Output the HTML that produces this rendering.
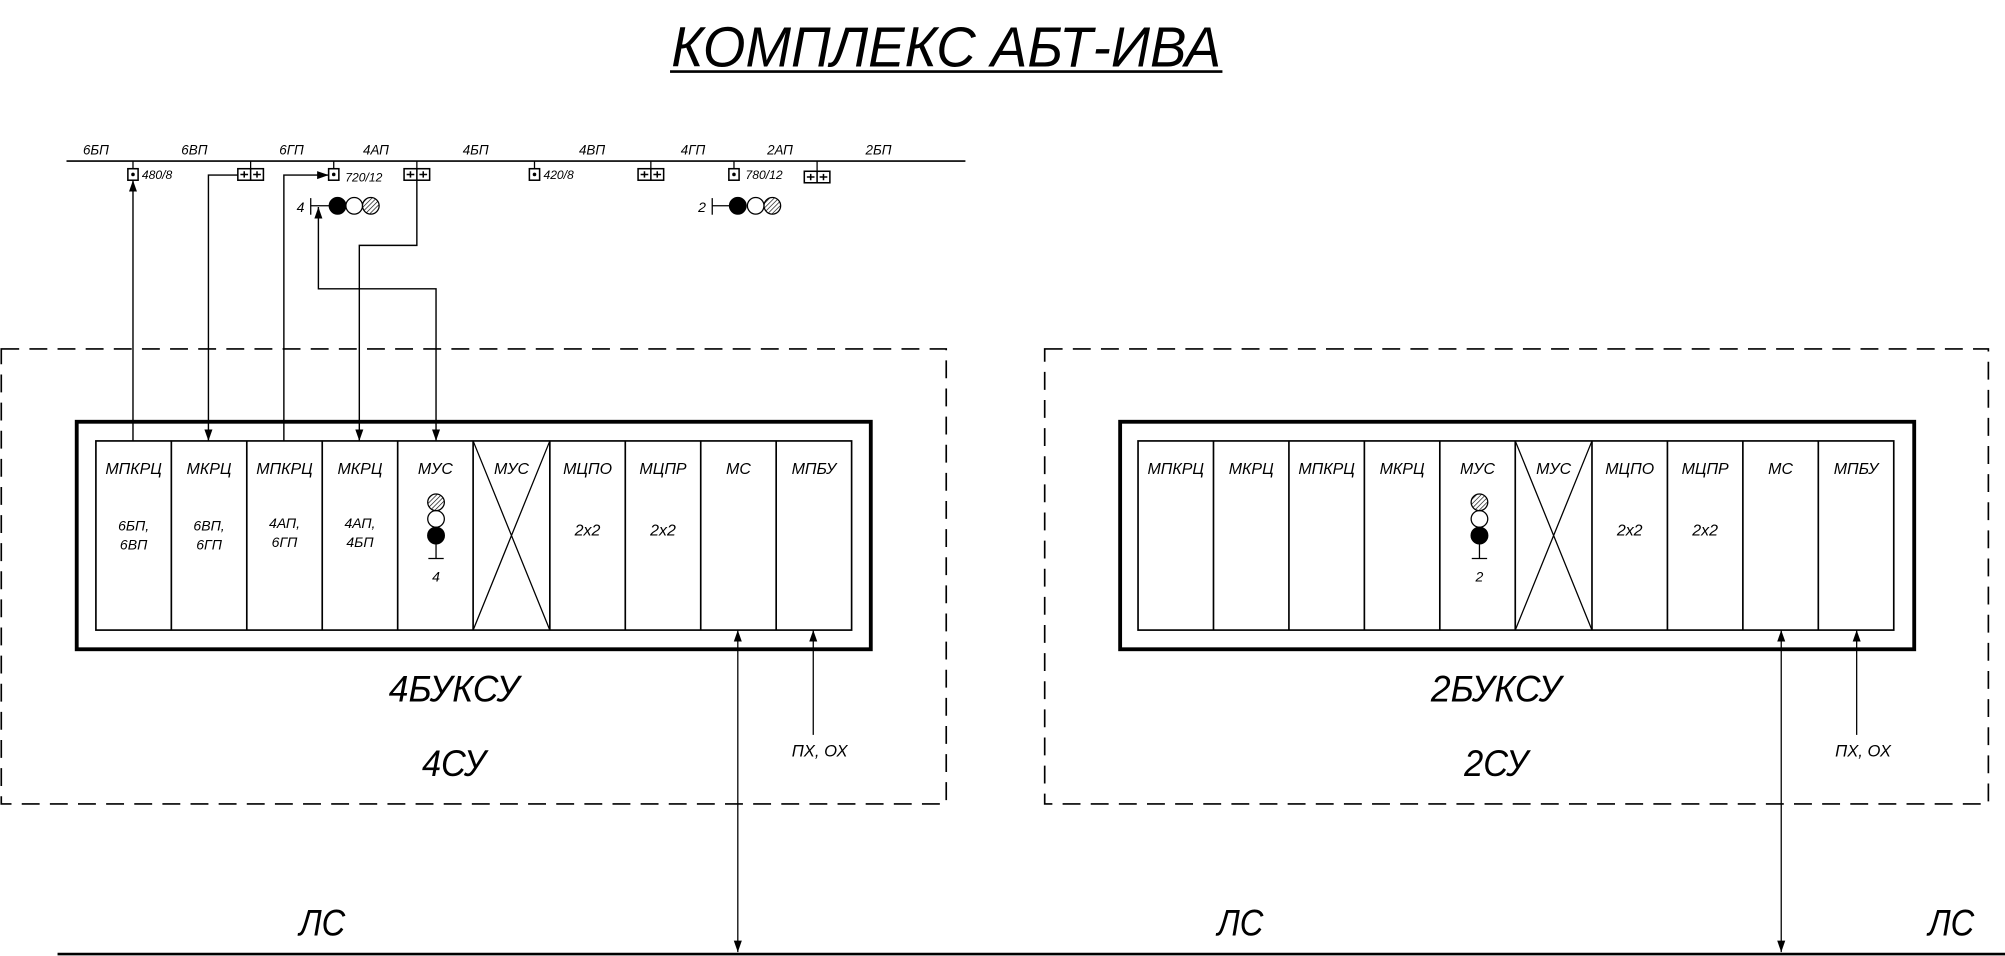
<!DOCTYPE html>
<html><head><meta charset="utf-8"><style>html,body{margin:0;padding:0;background:#fff}svg{display:block}</style></head><body>
<svg width="2005" height="956" viewBox="0 0 1568 748" preserveAspectRatio="none" xmlns="http://www.w3.org/2000/svg" font-family="'Liberation Sans', 'DejaVu Sans', sans-serif" font-style="italic" fill="#000">
<defs>
<marker id="a" viewBox="0 0 10 10" refX="10" refY="5" markerWidth="9" markerHeight="9" markerUnits="userSpaceOnUse" orient="auto-start-reverse"><path d="M0,1.5 L10,5 L0,8.5 z" fill="#000"/></marker>
<pattern id="h" width="2.5" height="2.5" patternUnits="userSpaceOnUse" patternTransform="rotate(45)"><rect width="2.5" height="2.5" fill="#fff"/><line x1="0" y1="0" x2="0" y2="2.5" stroke="#000" stroke-width="1"/></pattern>
</defs>
<g stroke="#000" fill="none">
<line x1="524" y1="56" x2="956" y2="56" stroke-width="2"/>
<line x1="52" y1="126" x2="755" y2="126" stroke-width="1.3"/>
<line x1="104" y1="126" x2="104" y2="132"/><line x1="196" y1="126" x2="196" y2="132"/><line x1="261" y1="126" x2="261" y2="132"/><line x1="326" y1="126" x2="326" y2="132"/><line x1="418" y1="126" x2="418" y2="132"/><line x1="509" y1="126" x2="509" y2="132"/><line x1="574" y1="126" x2="574" y2="132"/><line x1="639" y1="126" x2="639" y2="134"/>
<rect x="100" y="132" width="8" height="9" stroke-width="1.2"/><rect x="257" y="132" width="8" height="9" stroke-width="1.2"/><rect x="414" y="132" width="8" height="9" stroke-width="1.2"/><rect x="570" y="132" width="8" height="9" stroke-width="1.2"/>
<g fill="#000" stroke="none"><circle cx="104" cy="136.5" r="1.4"/><circle cx="261" cy="136.5" r="1.4"/><circle cx="418" cy="136.5" r="1.4"/><circle cx="574" cy="136.5" r="1.4"/></g>
<g stroke-width="1.2">
<rect x="186" y="132" width="20" height="9"/><line x1="196" y1="132" x2="196" y2="141"/><path d="M188,136.5h6M191,134v5M198,136.5h6M201,134v5"/>
<rect x="316" y="132" width="20" height="9"/><line x1="326" y1="132" x2="326" y2="141"/><path d="M318,136.5h6M321,134v5M328,136.5h6M331,134v5"/>
<rect x="499" y="132" width="20" height="9"/><line x1="509" y1="132" x2="509" y2="141"/><path d="M501,136.5h6M504,134v5M511,136.5h6M514,134v5"/>
<rect x="629" y="134" width="20" height="9"/><line x1="639" y1="134" x2="639" y2="143"/><path d="M631,138.5h6M634,136v5M641,138.5h6M644,136v5"/>
</g>
<line x1="243" y1="155" x2="243" y2="168"/><line x1="243" y1="161" x2="258" y2="161"/>
<circle cx="264" cy="161" r="6.5" fill="#000"/><circle cx="277" cy="161" r="6.5"/><circle cx="290" cy="161" r="6.5" fill="url(#h)"/>
<line x1="557" y1="155" x2="557" y2="168"/><line x1="557" y1="161" x2="571" y2="161"/>
<circle cx="577" cy="161" r="6.5" fill="#000"/><circle cx="591" cy="161" r="6.5"/><circle cx="604" cy="161" r="6.5" fill="url(#h)"/>
<g stroke-width="1.1">
<line x1="104" y1="345" x2="104" y2="141" marker-end="url(#a)"/>
<polyline points="186,137 163,137 163,345" marker-end="url(#a)"/>
<polyline points="222,345 222,137 257,137" marker-end="url(#a)"/>
<polyline points="326,141 326,192 281,192 281,345" marker-end="url(#a)"/>
<polyline points="341,345 341,226 249,226 249,162" marker-start="url(#a)" marker-end="url(#a)"/>
</g>
<rect x="1" y="273" width="739" height="356" stroke-width="1.3" stroke-dasharray="14 8"/>
<rect x="817" y="273" width="738" height="356" stroke-width="1.3" stroke-dasharray="14 8"/>
<rect x="60" y="330" width="621" height="178" stroke-width="3"/>
<rect x="75" y="345" width="591" height="148" stroke-width="1.3"/>
<rect x="876" y="330" width="621" height="178" stroke-width="3"/>
<rect x="890" y="345" width="591" height="148" stroke-width="1.3"/>
<path d="M134,345v148M193,345v148M252,345v148M311,345v148M370,345v148M430,345v148M489,345v148M548,345v148M607,345v148" stroke-width="1.3"/>
<path d="M949,345v148M1008,345v148M1067,345v148M1126,345v148M1185,345v148M1245,345v148M1304,345v148M1363,345v148M1422,345v148" stroke-width="1.3"/>
<path d="M370,493L430,345M370,345L430,493M1185,493L1245,345M1185,345L1245,493"/>
<circle cx="341" cy="393" r="6.5" fill="url(#h)"/><circle cx="341" cy="406" r="6.5"/><circle cx="341" cy="419" r="6.5" fill="#000"/><path d="M341,425v12M335,437h12"/>
<circle cx="1157" cy="393" r="6.5" fill="url(#h)"/><circle cx="1157" cy="406" r="6.5"/><circle cx="1157" cy="419" r="6.5" fill="#000"/><path d="M1157,425v12M1151,437h12"/>
<line x1="577" y1="745" x2="577" y2="493" marker-start="url(#a)" marker-end="url(#a)"/>
<line x1="636" y1="575" x2="636" y2="493" marker-end="url(#a)"/>
<line x1="1393" y1="745" x2="1393" y2="493" marker-start="url(#a)" marker-end="url(#a)"/>
<line x1="1452" y1="575" x2="1452" y2="493" marker-end="url(#a)"/>
<line x1="45" y1="746.5" x2="1568" y2="746.5" stroke-width="2"/>
</g>
<text x="740" y="52" font-size="44" text-anchor="middle" textLength="430" lengthAdjust="spacingAndGlyphs">КОМПЛЕКС АБТ-ИВА</text>
<g font-size="10.5" text-anchor="middle">
<text x="75" y="121">6БП</text><text x="152" y="121">6ВП</text><text x="228" y="121">6ГП</text><text x="294" y="121">4АП</text><text x="372" y="121">4БП</text><text x="463" y="121">4ВП</text><text x="542" y="121">4ГП</text><text x="610" y="121">2АП</text><text x="687" y="121">2БП</text>
</g>
<g font-size="9.5">
<text x="111" y="140">480/8</text><text x="270" y="142">720/12</text><text x="425" y="140">420/8</text><text x="583" y="140">780/12</text>
</g>
<text x="235" y="166" font-size="11" text-anchor="middle">4</text>
<text x="549" y="166" font-size="11" text-anchor="middle">2</text>
<g font-size="12.5" text-anchor="middle">
<text x="104.5" y="371">МПКРЦ</text><text x="163.5" y="371">МКРЦ</text><text x="222.5" y="371">МПКРЦ</text><text x="281.5" y="371">МКРЦ</text><text x="340.5" y="371">МУС</text><text x="400" y="371">МУС</text><text x="459.5" y="371">МЦПО</text><text x="518.5" y="371">МЦПР</text><text x="577.5" y="371">МС</text><text x="636.5" y="371">МПБУ</text>
<text x="919.5" y="371">МПКРЦ</text><text x="978.5" y="371">МКРЦ</text><text x="1037.5" y="371">МПКРЦ</text><text x="1096.5" y="371">МКРЦ</text><text x="1155.5" y="371">МУС</text><text x="1215" y="371">МУС</text><text x="1274.5" y="371">МЦПО</text><text x="1333.5" y="371">МЦПР</text><text x="1392.5" y="371">МС</text><text x="1451.5" y="371">МПБУ</text>
<text x="459.5" y="419">2x2</text><text x="518.5" y="419">2x2</text><text x="1274.5" y="419">2x2</text><text x="1333.5" y="419">2x2</text>
</g>
<g font-size="11" text-anchor="middle">
<text x="104.5" y="415">6БП,</text><text x="104.5" y="430">6ВП</text>
<text x="163.5" y="415">6ВП,</text><text x="163.5" y="430">6ГП</text>
<text x="222.5" y="413">4АП,</text><text x="222.5" y="428">6ГП</text>
<text x="281.5" y="413">4АП,</text><text x="281.5" y="428">4БП</text>
<text x="341" y="455">4</text><text x="1157" y="455">2</text>
<text x="641" y="592" font-size="13">ПХ, ОХ</text><text x="1457" y="592" font-size="13">ПХ, ОХ</text>
</g>
<g font-size="29" text-anchor="middle">
<text x="355" y="549" textLength="102" lengthAdjust="spacingAndGlyphs">4БУКСУ</text>
<text x="355" y="607" textLength="50" lengthAdjust="spacingAndGlyphs">4СУ</text>
<text x="1170" y="549" textLength="102" lengthAdjust="spacingAndGlyphs">2БУКСУ</text>
<text x="1170" y="607" textLength="50" lengthAdjust="spacingAndGlyphs">2СУ</text>
<text x="252" y="732" textLength="36" lengthAdjust="spacingAndGlyphs">ЛС</text>
<text x="970" y="732" textLength="36" lengthAdjust="spacingAndGlyphs">ЛС</text>
<text x="1526" y="732" textLength="36" lengthAdjust="spacingAndGlyphs">ЛС</text>
</g>
</svg>
</body></html>
